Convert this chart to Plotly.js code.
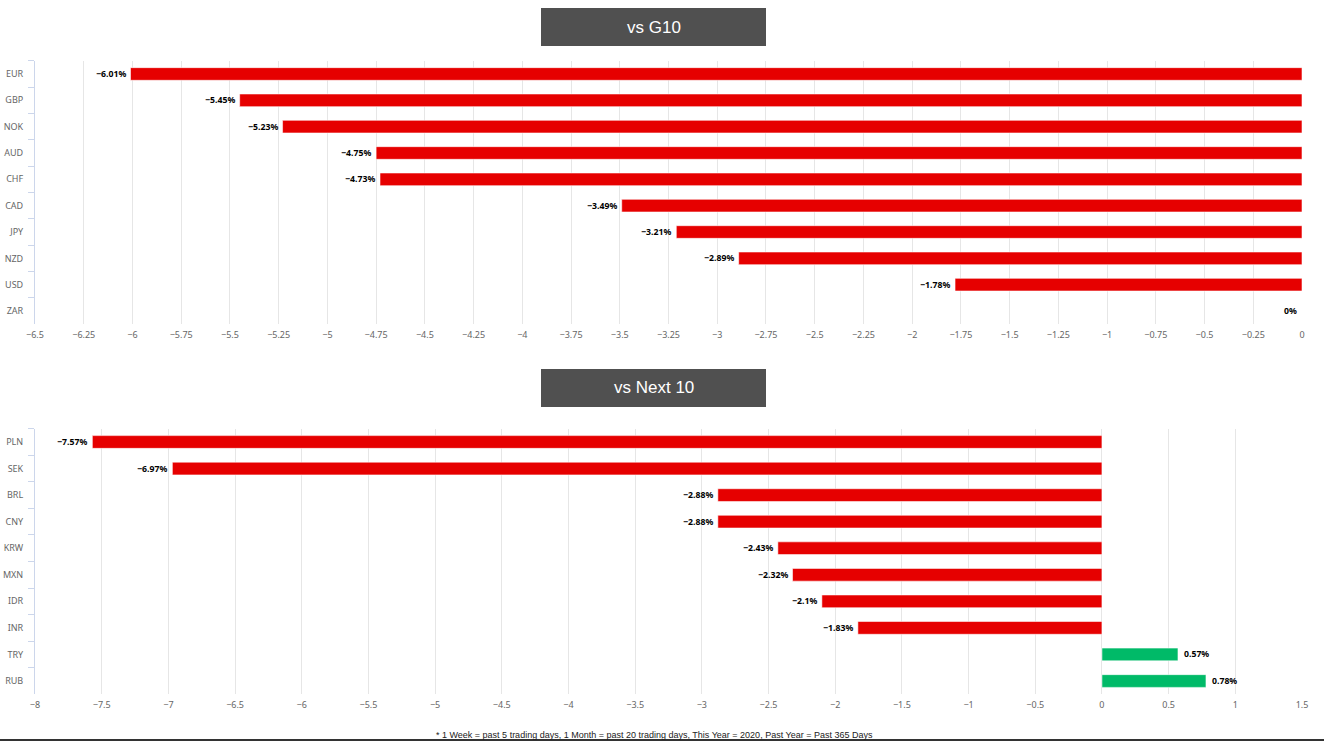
<!DOCTYPE html>
<html>
<head>
<meta charset="utf-8">
<script src="https://cdn.plot.ly/plotly-3.0.1.min.js"></script>
<style>
html,body{margin:0;padding:0;background:#fff;overflow:hidden;}
#chart{width:1324px;height:741px;}
</style>
</head>
<body>
<div id="chart"></div>
<script>
const g10Title = 'vs G10';
const g10Cats = ['EUR','GBP','NOK','AUD','CHF','CAD','JPY','NZD','USD','ZAR'];
const g10Vals = [-6.01,-5.45,-5.23,-4.75,-4.73,-3.49,-3.21,-2.89,-1.78,0];

const n10Title = 'vs Next 10';
const n10Cats = ['PLN','SEK','BRL','CNY','KRW','MXN','IDR','INR','TRY','RUB'];
const n10Vals = [-7.57,-6.97,-2.88,-2.88,-2.43,-2.32,-2.1,-1.83,0.57,0.78];

const footnote = '* 1 Week = past 5 trading days, 1 Month = past 20 trading days, This Year = 2020, Past Year = Past 365 Days';

const RED = '#e60000', GREEN = '#00ba68';
const W = 1324, H = 741;
const px = v => v / W;
const py = v => 1 - v / H;

function fmt(v){
  const s = String(Math.abs(v)) + '%';
  return v < 0 ? '\u2212' + s : s;
}

function barTrace(cats, vals, xa, ya){
  return {
    type:'bar', orientation:'h',
    y: cats, x: vals,
    xaxis: xa, yaxis: ya,
    marker:{color: vals.map(v => v < 0 ? RED : GREEN), line:{color:'rgba(255,255,255,0.55)', width:1}},
    hoverinfo:'none', showlegend:false
  };
}

function labels(cats, vals, xr, yr){
  return vals.map((v,i) => ({
    xref: xr, yref: yr, x: v, y: cats[i],
    text: '<b>' + fmt(v) + '</b>',
    showarrow:false,
    xanchor: v > 0 ? 'left' : 'right',
    xshift: v > 0 ? 4 : -3,
    font:{family:'Noto Sans, sans-serif', size:8.7, color:'#000'}
  }));
}

const tickFont = {family:'Noto Sans, sans-serif', size:9, color:'#666'};

function xAxis(domain, range, dtick, anchor){
  return {
    domain: domain, range: range, dtick: dtick, tick0: 0,
    showgrid:true, gridcolor:'#e6e6e6', gridwidth:1,
    zeroline:false, showline:false, ticks:'',
    tickfont: tickFont, ticklabelstandoff: 4,
    anchor: anchor, fixedrange:true
  };
}
function yAxis(domain, anchor){
  return {
    domain: domain, type:'category', autorange:'reversed',
    showgrid:false, zeroline:false,
    showline:true, linecolor:'#ccd6eb', linewidth:1,
    ticks:'outside', ticklen:6, tickcolor:'#ccd6eb', tickson:'boundaries',
    tickfont: tickFont, ticklabelstandoff: 9,
    anchor: anchor, fixedrange:true
  };
}

const traces = [
  barTrace(g10Cats, g10Vals, 'x', 'y'),
  barTrace(n10Cats, n10Vals, 'x2', 'y2')
];

const titleFont = {family:'Liberation Sans, Arial, sans-serif', size:17, color:'#fff'};

const annotations = []
  .concat(labels(g10Cats, g10Vals, 'x', 'y'))
  .concat(labels(n10Cats, n10Vals, 'x2', 'y2'))
  .concat([
    {xref:'paper', yref:'paper', x:px(653.5), y:py(27), text:g10Title, showarrow:false, xanchor:'center', yanchor:'middle', font:titleFont},
    {xref:'paper', yref:'paper', x:px(653.5), y:py(388), text:n10Title, showarrow:false, xanchor:'center', yanchor:'middle', font:titleFont},
    {xref:'paper', yref:'paper', x:px(654), y:py(734.5), text:footnote, showarrow:false, xanchor:'center', yanchor:'middle',
     font:{family:'Liberation Sans Narrow, Arial Narrow, sans-serif', size:9, color:'#222'}}
  ]);

const shapes = [
  {type:'rect', xref:'paper', yref:'paper', x0:px(541), x1:px(766), y0:py(8), y1:py(46), fillcolor:'#505050', line:{width:0}, layer:'below'},
  {type:'rect', xref:'paper', yref:'paper', x0:px(541), x1:px(766), y0:py(369), y1:py(407), fillcolor:'#505050', line:{width:0}, layer:'below'},
  {type:'line', xref:'paper', yref:'paper', x0:0, x1:1, y0:py(740), y1:py(740), line:{color:'#333', width:2}}
];

const layout = {
  width: W, height: H,
  margin:{l:0, r:0, t:0, b:0},
  paper_bgcolor:'#fff', plot_bgcolor:'#fff',
  bargap: 0.52,
  xaxis: xAxis([px(35), px(1302)], [-6.5, 0], 0.25, 'y'),
  yaxis: yAxis([py(324.2), py(60.8)], 'x'),
  xaxis2: xAxis([px(35), px(1302)], [-8, 1.5], 0.5, 'y2'),
  yaxis2: yAxis([py(694.3), py(428.7)], 'x2'),
  annotations: annotations,
  shapes: shapes,
  font:{family:'Noto Sans, sans-serif'}
};

Plotly.newPlot('chart', traces, layout, {displayModeBar:false, staticPlot:true});
</script>
</body>
</html>
